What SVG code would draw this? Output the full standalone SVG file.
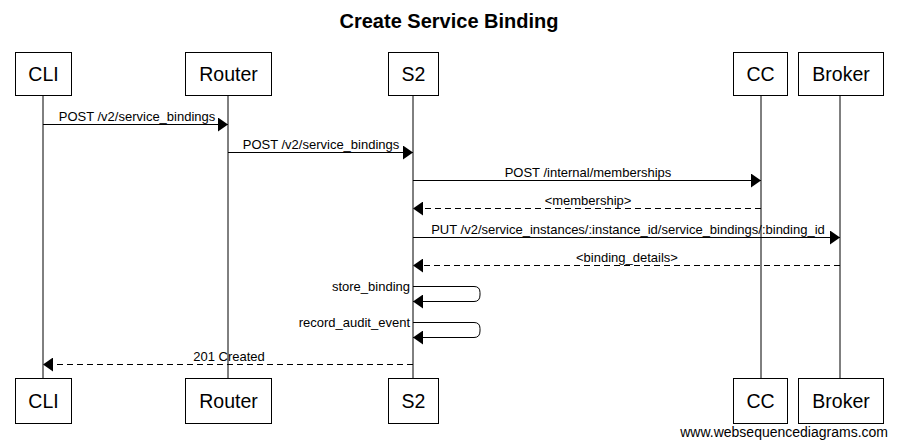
<svg xmlns="http://www.w3.org/2000/svg" width="898" height="447" viewBox="0 0 898 447">
<style>
.box{fill:#fff;stroke:#000;stroke-width:1}
.bt{font-family:"Liberation Sans",Arial,sans-serif;font-size:19.5px;text-anchor:middle;fill:#000}
.life{stroke:#000;stroke-width:1}
.msg{stroke:#000;stroke-width:1;fill:none}
.dash{stroke-dasharray:6,4}
.lbl{font-family:"Liberation Sans",Arial,sans-serif;font-size:13px;text-anchor:middle;fill:#000}
.lr{text-anchor:end}
</style>
<defs>
<marker id="ah" viewBox="0 0 10 14" refX="10" refY="7" markerWidth="10" markerHeight="14" markerUnits="userSpaceOnUse" orient="auto">
<path d="M0,0 L10,7 L0,14 Z" fill="#000"/>
</marker>
</defs>
<rect width="898" height="447" fill="#fff"/>
<text x="449" y="28" font-family="Liberation Sans,Arial,sans-serif" font-size="20" font-weight="bold" text-anchor="middle">Create Service Binding</text>
<g id="lifelines">
<line class="life" x1="43" y1="95" x2="43" y2="378"/>
<line class="life" x1="228" y1="95" x2="228" y2="378"/>
<line class="life" x1="413" y1="95" x2="413" y2="378"/>
<line class="life" x1="761" y1="95" x2="761" y2="378"/>
<line class="life" x1="840" y1="95" x2="840" y2="378"/>
</g>
<g id="CLI"><rect class="box" x="15.5" y="52.5" width="56" height="43"/><text class="bt" x="43.5" y="81">CLI</text>
<rect class="box" x="15.5" y="378.5" width="56" height="45"/><text class="bt" x="43.5" y="408">CLI</text></g>
<g id="Router"><rect class="box" x="185.5" y="52.5" width="86" height="43"/><text class="bt" x="228.5" y="81">Router</text>
<rect class="box" x="185.5" y="378.5" width="86" height="45"/><text class="bt" x="228.5" y="408">Router</text></g>
<g id="S2"><rect class="box" x="388.5" y="52.5" width="50" height="43"/><text class="bt" x="413.5" y="81">S2</text>
<rect class="box" x="388.5" y="378.5" width="50" height="45"/><text class="bt" x="413.5" y="408">S2</text></g>
<g id="CC"><rect class="box" x="733.5" y="52.5" width="54" height="43"/><text class="bt" x="760.5" y="81">CC</text>
<rect class="box" x="733.5" y="378.5" width="54" height="45"/><text class="bt" x="760.5" y="408">CC</text></g>
<g id="Broker"><rect class="box" x="798.5" y="52.5" width="85" height="43"/><text class="bt" x="841" y="81">Broker</text>
<rect class="box" x="798.5" y="378.5" width="85" height="45"/><text class="bt" x="841" y="408">Broker</text></g>
<g id="connectors">
<line class="msg" x1="43" y1="124.5" x2="228" y2="124.5" marker-end="url(#ah)"/>
<text class="lbl" x="137" y="121">POST /v2/service_bindings</text>
<line class="msg" x1="228" y1="152.5" x2="413" y2="152.5" marker-end="url(#ah)"/>
<text class="lbl" x="321" y="149">POST /v2/service_bindings</text>
<line class="msg" x1="413" y1="180.5" x2="761" y2="180.5" marker-end="url(#ah)"/>
<text class="lbl" x="588" y="177">POST /internal/memberships</text>
<line class="msg dash" x1="761" y1="208.5" x2="413" y2="208.5" marker-end="url(#ah)"/>
<text class="lbl" x="588" y="205">&lt;membership&gt;</text>
<line class="msg" x1="413" y1="237.5" x2="840" y2="237.5" marker-end="url(#ah)"/>
<text class="lbl" x="628" y="234">PUT /v2/service_instances/:instance_id/service_bindings/:binding_id</text>
<line class="msg dash" x1="840" y1="265.5" x2="413" y2="265.5" marker-end="url(#ah)"/>
<text class="lbl" x="627" y="262">&lt;binding_details&gt;</text>
<path class="msg" d="M413,286.5 H474 Q480,286.5 480,292.5 V295 Q480,301.5 474,301.5 H413" marker-end="url(#ah)"/>
<text class="lbl lr" x="410" y="291">store_binding</text>
<path class="msg" d="M413,322.5 H474 Q480,322.5 480,328.5 V331 Q480,337.5 474,337.5 H413" marker-end="url(#ah)"/>
<text class="lbl lr" x="410" y="327">record_audit_event</text>
<line class="msg dash" x1="413" y1="364.5" x2="43" y2="364.5" marker-end="url(#ah)"/>
<text class="lbl" x="229" y="361">201 Created</text>
</g>
<text x="888" y="437" font-family="Liberation Sans,Arial,sans-serif" font-size="14" text-anchor="end">www.websequencediagrams.com</text>
</svg>
